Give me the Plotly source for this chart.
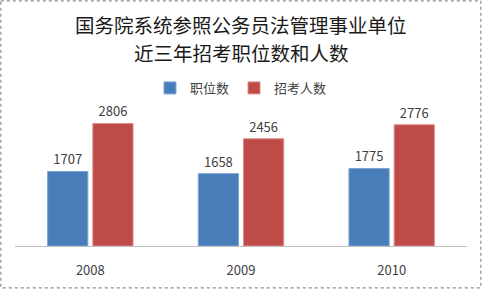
import plotly.graph_objects as go

years = ["2008", "2009", "2010"]
positions = [1707, 1658, 1775]
applicants = [2806, 2456, 2776]
series_names = ["职位数", "招考人数"]
title_lines = ["国务院系统参照公务员法管理事业单位", "近三年招考职位数和人数"]

W, H = 482, 289
ml, mr, mt, mb = 15, 15, 115, 43
pw, ph = W - ml - mr, H - mt - mb

font_cjk = "Noto Sans CJK SC, Noto Sans, sans-serif"

fig = go.Figure()
fig.add_trace(go.Bar(
    x=years, y=positions, name=series_names[0],
    marker=dict(color="#4A7EBB", line=dict(color="#7FA6D6", width=1)),
    text=positions, textposition="outside", cliponaxis=False,
    textfont=dict(size=13, color="#404040", family=font_cjk),
))
fig.add_trace(go.Bar(
    x=years, y=applicants, name=series_names[1],
    marker=dict(color="#BE4B48", line=dict(color="#E08C8A", width=1)),
    text=applicants, textposition="outside", cliponaxis=False,
    textfont=dict(size=13, color="#404040", family=font_cjk),
))

def px_x(p):
    return (p - ml) / pw

def px_y(p):
    return (H - mb - p) / ph

shapes = [dict(
    type="rect", xref="paper", yref="paper",
    x0=px_x(0.8), x1=px_x(W - 1.2), y0=px_y(0.8), y1=px_y(H - 1.2),
    line=dict(color="#8C8C8C", width=1.2, dash="dot"), fillcolor="rgba(0,0,0,0)",
    layer="below",
)]

annotations = [
    dict(text=title_lines[0], xref="paper", yref="paper", x=px_x(241), y=px_y(24.5),
         showarrow=False, font=dict(size=19.5, color="#1a1a1a", family=font_cjk),
         xanchor="center", yanchor="middle"),
    dict(text=title_lines[1], xref="paper", yref="paper", x=px_x(241), y=px_y(52.5),
         showarrow=False, font=dict(size=19.5, color="#1a1a1a", family=font_cjk),
         xanchor="center", yanchor="middle"),
]

fig.update_layout(
    width=W, height=H,
    margin=dict(l=ml, r=mr, t=mt, b=mb, pad=0, autoexpand=False),
    paper_bgcolor="white", plot_bgcolor="white",
    barmode="group", bargap=0.4, bargroupgap=0.11,
    showlegend=True,
    legend=dict(orientation="h", x=px_x(241), xanchor="center", xref="paper",
                y=px_y(88), yanchor="middle", yref="paper",
                font=dict(size=13, color="#404040", family=font_cjk),
                itemwidth=30, traceorder="normal", bgcolor="rgba(0,0,0,0)"),
    xaxis=dict(showgrid=False, showline=True, linecolor="#BFBFBF", linewidth=1,
               ticks="", tickfont=dict(size=13, color="#404040", family=font_cjk),
               ticklabelstandoff=12, fixedrange=True, automargin=False),
    yaxis=dict(range=[0, 3000], visible=False, fixedrange=True),
    shapes=shapes, annotations=annotations,
)

fig.write_html("out.html",
               config={"displayModeBar": False},
               post_script="document.body.style.margin='0';document.body.style.overflow='hidden';")
